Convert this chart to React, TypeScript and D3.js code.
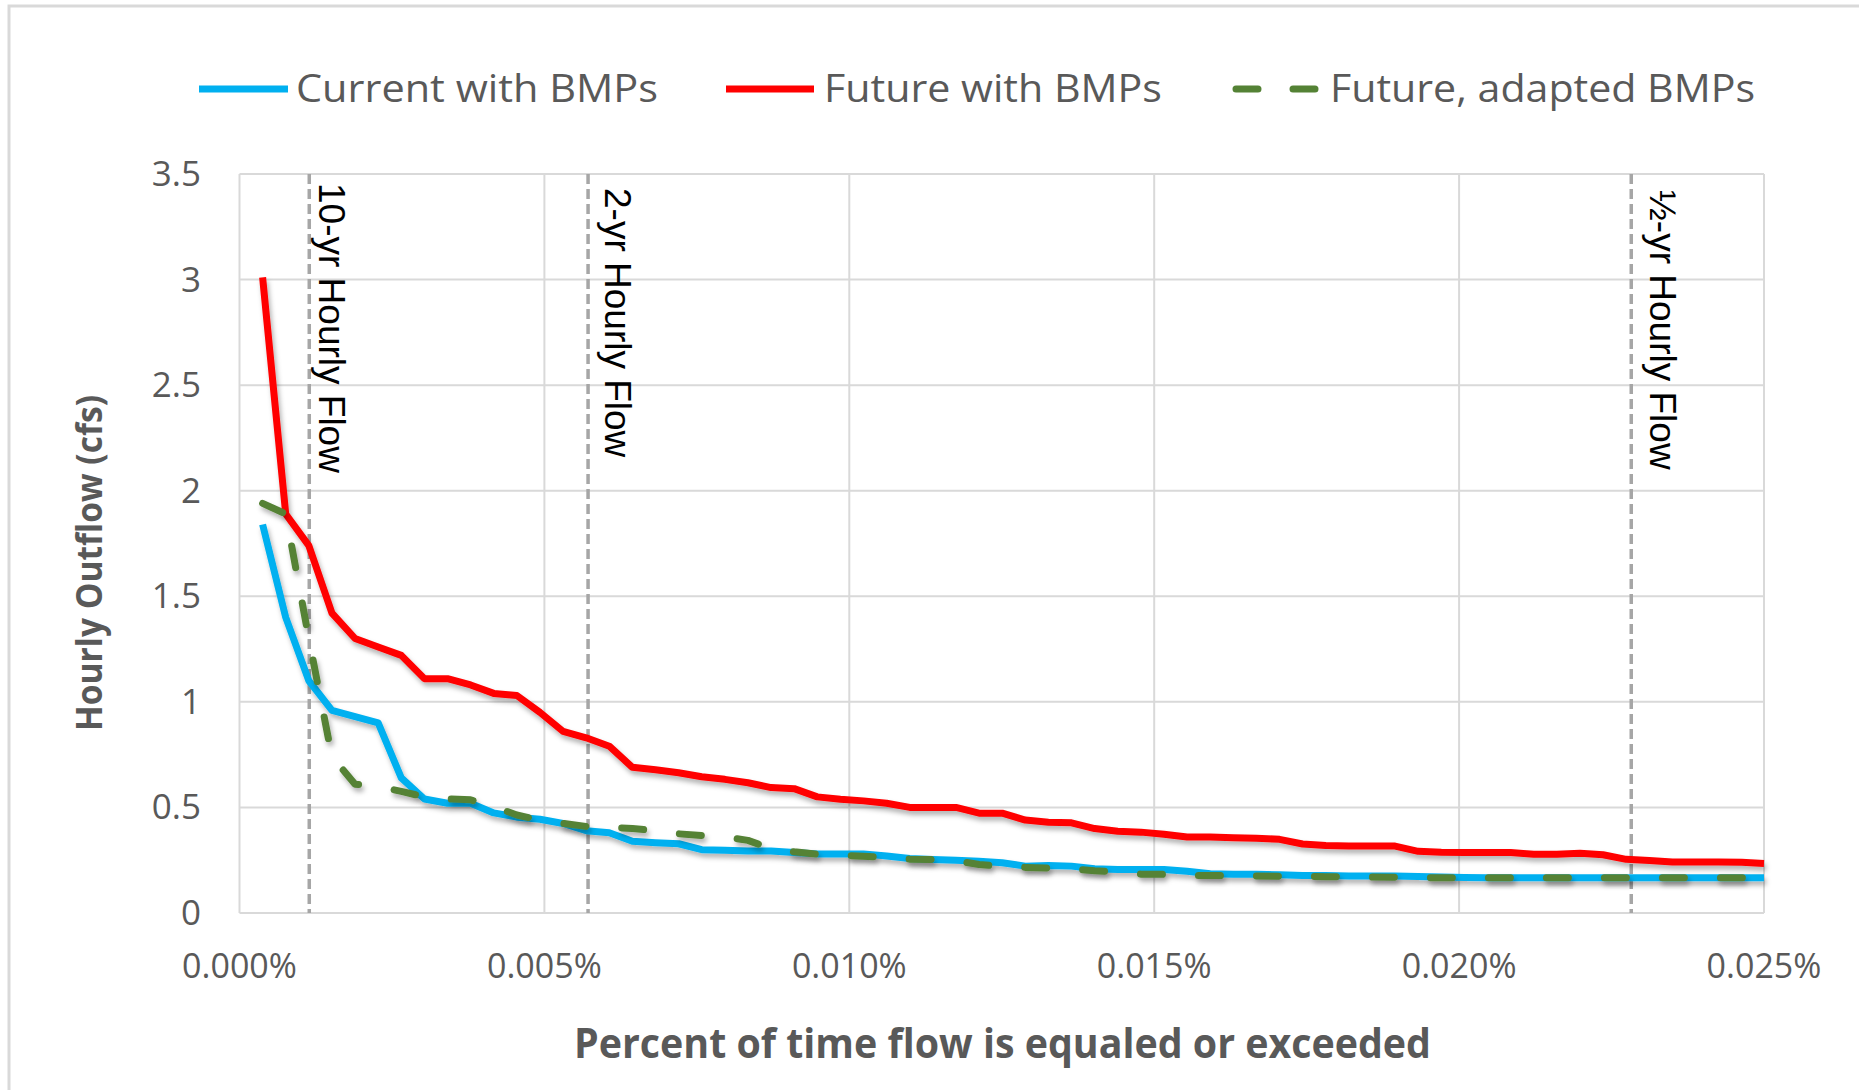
import React from 'react';
import * as d3 from 'd3';

// percent of time flow is equaled or exceeded (one hourly rank per point)
const exceedPct = [
  0.000379, 0.000758, 0.001137, 0.001516, 0.001895, 0.002274, 0.002653, 0.003032, 0.003411, 0.00379,
  0.004169, 0.004548, 0.004927, 0.005306, 0.005685, 0.006064, 0.006443, 0.006822, 0.007201, 0.00758,
  0.007959, 0.008338, 0.008717, 0.009096, 0.009475, 0.009854, 0.010233, 0.010612, 0.010991, 0.01137,
  0.011749, 0.012128, 0.012507, 0.012886, 0.013265, 0.013644, 0.014023, 0.014402, 0.014781, 0.01516,
  0.015539, 0.015918, 0.016297, 0.016676, 0.017055, 0.017434, 0.017813, 0.018192, 0.018571, 0.01895,
  0.019329, 0.019708, 0.020087, 0.020466, 0.020845, 0.021224, 0.021603, 0.021982, 0.022361, 0.02274,
  0.023119, 0.023498, 0.023877, 0.024256, 0.024635, 0.025,
];

const currentBMPs = [
  1.84, 1.4, 1.1, 0.96, 0.93, 0.9, 0.64, 0.54, 0.52, 0.52,
  0.474, 0.454, 0.444, 0.424, 0.39, 0.38, 0.34, 0.333, 0.328, 0.3,
  0.297, 0.294, 0.294, 0.286, 0.28, 0.28, 0.28, 0.27, 0.258, 0.253,
  0.25, 0.245, 0.238, 0.222, 0.225, 0.222, 0.21, 0.206, 0.206, 0.206,
  0.198, 0.186, 0.183, 0.183, 0.181, 0.178, 0.178, 0.175, 0.175, 0.175,
  0.173, 0.171, 0.168, 0.167, 0.167, 0.167, 0.167, 0.167, 0.167, 0.167,
  0.167, 0.167, 0.167, 0.167, 0.167, 0.167,
];

const futureBMPs = [
  3.01, 1.89, 1.74, 1.42, 1.3, 1.26, 1.22, 1.11, 1.11, 1.08,
  1.04, 1.03, 0.95, 0.86, 0.83, 0.79, 0.69, 0.678, 0.664, 0.645,
  0.633, 0.617, 0.594, 0.589, 0.55, 0.539, 0.531, 0.52, 0.5, 0.5,
  0.5, 0.473, 0.473, 0.44, 0.43, 0.427, 0.4, 0.387, 0.383, 0.373,
  0.36, 0.36, 0.356, 0.354, 0.349, 0.327, 0.32, 0.317, 0.317, 0.317,
  0.292, 0.288, 0.287, 0.286, 0.286, 0.278, 0.278, 0.283, 0.276, 0.254,
  0.249, 0.241, 0.241, 0.241, 0.24, 0.235,
];

const futureAdapted = [
  1.94, 1.89, 1.3, 0.74, 0.61, 0.6, 0.576, 0.55, 0.54, 0.536,
  0.504, 0.464, 0.44, 0.424, 0.41, 0.406, 0.4, 0.39, 0.375, 0.367,
  0.36, 0.344, 0.305, 0.29, 0.278, 0.273, 0.269, 0.262, 0.255, 0.253,
  0.247, 0.23, 0.22, 0.216, 0.213, 0.21, 0.2, 0.194, 0.184, 0.183,
  0.178, 0.178, 0.176, 0.175, 0.174, 0.173, 0.172, 0.171, 0.17, 0.169,
  0.168, 0.167, 0.167, 0.167, 0.167, 0.167, 0.167, 0.167, 0.167, 0.167,
  0.167, 0.167, 0.167, 0.167, 0.167, 0.167,
];

const seriesNames = ['Current with BMPs', 'Future with BMPs', 'Future, adapted BMPs'];

const yTicks = [0, 0.5, 1, 1.5, 2, 2.5, 3, 3.5];
const xTicks = [0, 0.005, 0.01, 0.015, 0.02, 0.025];

const returnLabels = ['10-yr Hourly Flow', '2-yr Hourly Flow', '\u00BD-yr Hourly Flow'];
const returnPct = [0.001144, 0.005716, 0.022823];

export default function App() {
  const width = 1859;
  const height = 1090;
  const MARGIN = { top: 174, right: 95, bottom: 177, left: 239.5 };

  const xScale = d3.scaleLinear().domain([0, 0.025]).range([MARGIN.left, width - MARGIN.right]);
  const yScale = d3.scaleLinear().domain([0, 3.5]).range([height - MARGIN.bottom, MARGIN.top]);

  const line = d3
    .line<number>()
    .x((_, i) => xScale(exceedPct[i]))
    .y((d) => yScale(d));

  const grey = '#595959';
  const tickFont = '"Open Sans", sans-serif';

  const series = [
    { data: currentBMPs, color: '#00b0f0', dash: undefined },
    { data: futureBMPs, color: '#ff0000', dash: undefined },
    { data: futureAdapted, color: '#548235', dash: '22 36' },
  ];

  // legend layout: sample line start/end and label box
  const legendPos = [
    { x1: 199, x2: 288, tx: 296, tw: 362 },
    { x1: 726, x2: 814, tx: 824, tw: 338 },
    { x1: 1233, x2: 1318, tx: 1330, tw: 425 },
  ];
  const labelOffsets = [10, 17, 19];
  const labelStarts = [183, 188, 190];

  return (
    <svg
      width={width}
      height={height}
      style={{ position: 'absolute', left: 0, top: 0, background: '#fff' }}
    >
      <defs>
        <filter id="shadow" x="-5%" y="-5%" width="110%" height="120%">
          <feDropShadow dx="2" dy="4" stdDeviation="2.5" floodColor="#000" floodOpacity="0.3" />
        </filter>
      </defs>
      <rect x={0} y={0} width={width} height={height} fill="#fff" />
      <rect x={9} y={6} width={width + 40} height={height + 40} fill="none" stroke="#d9d9d9" strokeWidth={3} />

      {/* grid */}
      {yTicks.map((v) => (
        <line
          key={'gy' + v}
          x1={xScale(0)}
          x2={xScale(0.025)}
          y1={yScale(v)}
          y2={yScale(v)}
          stroke="#d9d9d9"
          strokeWidth={2}
        />
      ))}
      {xTicks.map((v) => (
        <line
          key={'gx' + v}
          x1={xScale(v)}
          x2={xScale(v)}
          y1={yScale(0)}
          y2={yScale(3.5)}
          stroke="#d9d9d9"
          strokeWidth={2}
        />
      ))}

      {/* return-period markers */}
      {returnPct.map((p, i) => (
        <g key={'rp' + i}>
          <line
            x1={xScale(p)}
            x2={xScale(p)}
            y1={yScale(3.5)}
            y2={yScale(0)}
            stroke="#a6a6a6"
            strokeWidth={3.5}
            strokeDasharray="10 5"
          />
          <text
            transform={`translate(${xScale(p) + labelOffsets[i]},${labelStarts[i]}) rotate(90)`}
            fontFamily='"Liberation Sans", Arial, sans-serif'
            fontSize={37}
            fill="#000"
          >
            {returnLabels[i]}
          </text>
        </g>
      ))}

      {/* series */}
      {series.map((s, i) => (
        <path
          key={'s' + i}
          d={line(s.data) ?? ''}
          fill="none"
          stroke={s.color}
          strokeWidth={7}
          strokeDasharray={s.dash}
          strokeLinecap={s.dash ? 'round' : 'butt'}
          strokeLinejoin="round"
          filter="url(#shadow)"
        />
      ))}

      {/* y ticks */}
      {yTicks.map((v) => (
        <text
          key={'ty' + v}
          x={201}
          y={yScale(v) + 12}
          textAnchor="end"
          fontFamily={tickFont}
          fontSize={35}
          fill={grey}
        >
          {v}
        </text>
      ))}
      {/* x ticks */}
      {xTicks.map((v) => (
        <text
          key={'tx' + v}
          x={xScale(v)}
          y={978}
          textAnchor="middle"
          fontFamily={tickFont}
          fontSize={34}
          fill={grey}
        >
          {d3.format('.3f')(v) + '%'}
        </text>
      ))}

      {/* axis titles */}
      <text
        x={574}
        y={1058}
        fontFamily={tickFont}
        fontWeight="bold"
        fontSize={41}
        fill={grey}
        textLength={857}
        lengthAdjust="spacingAndGlyphs"
      >
        Percent of time flow is equaled or exceeded
      </text>
      <text
        transform="translate(102,731) rotate(-90)"
        fontFamily={tickFont}
        fontWeight="bold"
        fontSize={35}
        fill={grey}
        textLength={336}
        lengthAdjust="spacingAndGlyphs"
      >
        Hourly Outflow (cfs)
      </text>

      {/* legend */}
      {series.map((s, i) => (
        <g key={'lg' + i}>
          <line
            x1={legendPos[i].x1 + (s.dash ? 3 : 0)}
            x2={legendPos[i].x2 - (s.dash ? 3 : 0)}
            y1={89}
            y2={89}
            stroke={s.color}
            strokeWidth={7}
            strokeDasharray={s.dash ? '22 35' : undefined}
            strokeLinecap={s.dash ? 'round' : 'butt'}
          />
          <text
            x={legendPos[i].tx}
            y={102}
            fontFamily={tickFont}
            fontSize={38}
            fill={grey}
            textLength={legendPos[i].tw}
            lengthAdjust="spacingAndGlyphs"
          >
            {seriesNames[i]}
          </text>
        </g>
      ))}
    </svg>
  );
}
